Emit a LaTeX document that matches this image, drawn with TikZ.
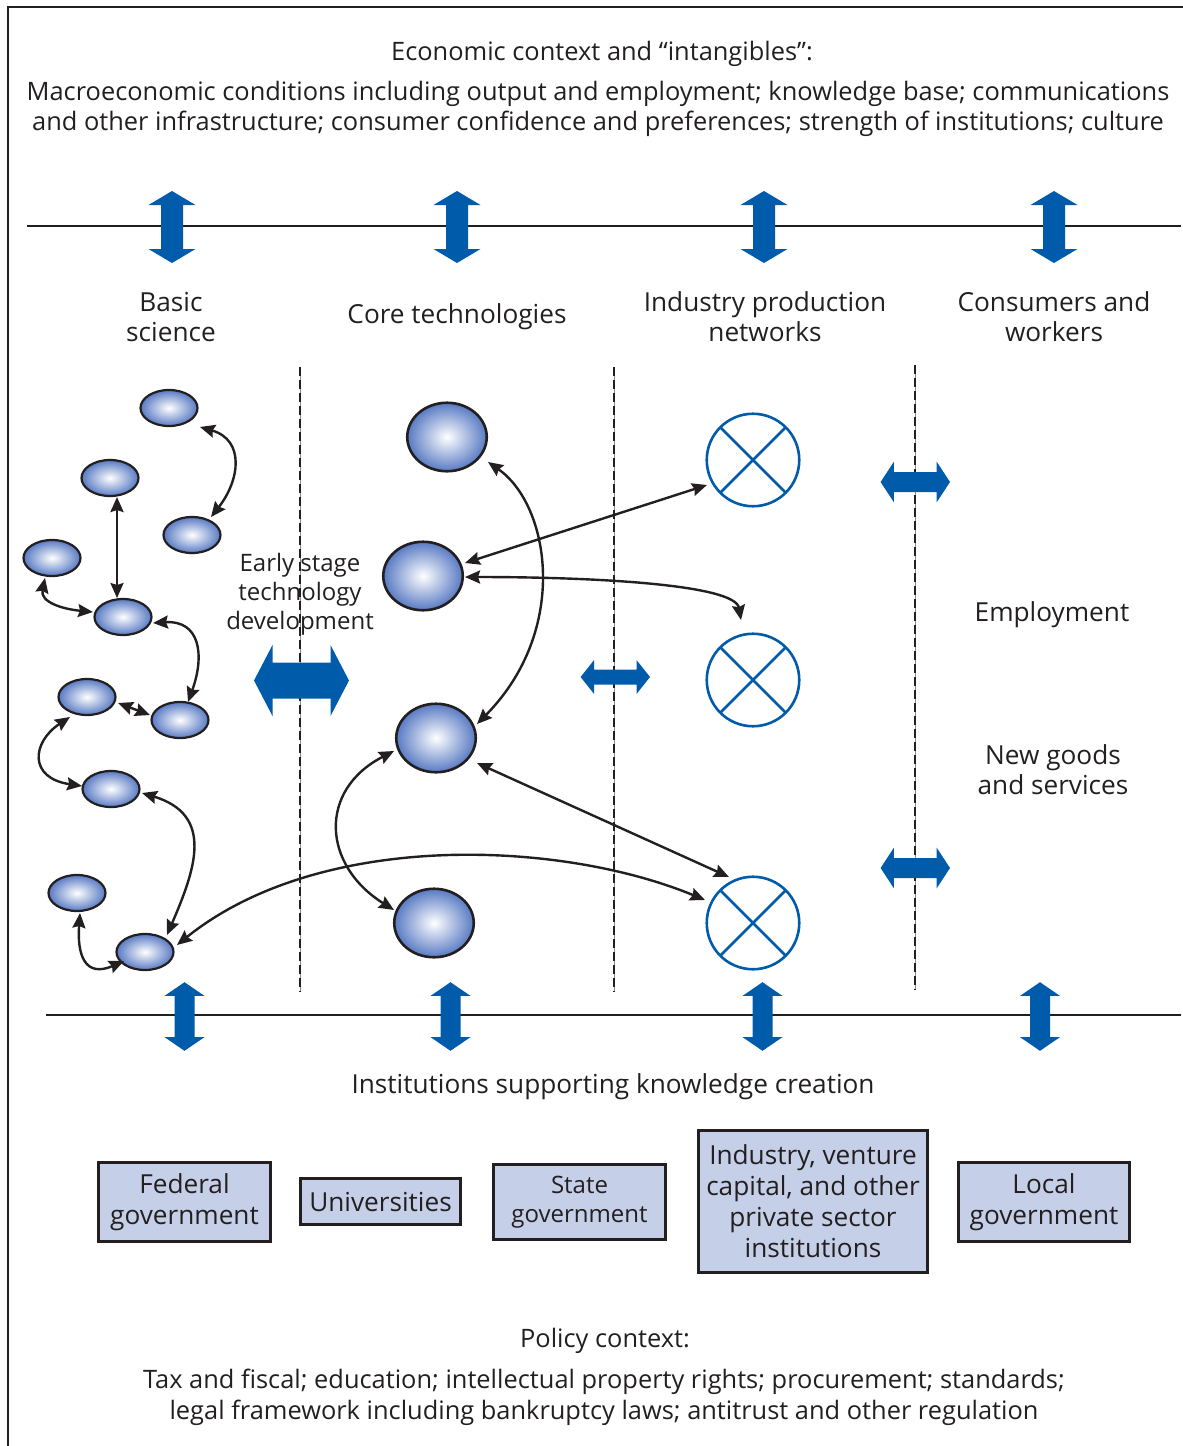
\documentclass[tikz,border=0pt]{standalone}
\usepackage{fontspec}
\setmainfont{Open Sans}
\usetikzlibrary{arrows.meta,shapes.geometric,calc}

\definecolor{ink}{HTML}{231F20}
\definecolor{blockblue}{RGB}{0,91,170}
\definecolor{ballblue}{RGB}{88,122,195}
\definecolor{boxfill}{RGB}{197,208,232}

% block double arrows: centre x, centre y, half length, head length, head half width, shaft half width
\newcommand\VBlock[6]{%
  \begin{scope}[shift={(#1,#2)}]
    \fill[blockblue] (0,-#3) -- (#5,{-#3+#4}) -- (#6,{-#3+#4}) -- (#6,{#3-#4}) -- (#5,{#3-#4})
      -- (0,#3) -- (-#5,{#3-#4}) -- (-#6,{#3-#4}) -- (-#6,{-#3+#4}) -- (-#5,{-#3+#4}) -- cycle;
  \end{scope}}
\newcommand\HBlock[6]{%
  \begin{scope}[shift={(#1,#2)}]
    \fill[blockblue] (-#3,0) -- ({-#3+#4},#5) -- ({-#3+#4},#6) -- ({#3-#4},#6) -- ({#3-#4},#5)
      -- (#3,0) -- ({#3-#4},-#5) -- ({#3-#4},-#6) -- ({-#3+#4},-#6) -- ({-#3+#4},-#5) -- cycle;
  \end{scope}}

\begin{document}
\begin{tikzpicture}[x=1pt,y=-1pt,
  every node/.style={text=ink},
  txt/.style={align=center, inner sep=0pt, font=\fontsize{25.4}{30}\selectfont},
  head/.style={txt, font=\fontsize{26.2}{30}\selectfont},
  ball/.style={ellipse, draw=ink, line width=2.2pt, inner color=white, outer color=ballblue,
    inner sep=0pt, minimum width=57pt, minimum height=36pt},
  bigball/.style={ball, line width=2.6pt, minimum width=79.5pt, minimum height=68.5pt},
  firm/.style={circle, draw=blockblue, line width=2.6pt, minimum size=92.5pt, inner sep=0pt, outer sep=0pt},
  cross/.style={draw=blockblue, line width=2.6pt},
  inst/.style={draw=ink, line width=2.6pt, fill=boxfill, align=center, inner sep=0pt,
    font=\fontsize{26.2}{31}\selectfont},
  link/.style={draw=ink, line width=2.4pt,
    {Stealth[length=15pt,width=13pt,inset=2pt]}-{Stealth[length=15pt,width=13pt,inset=2pt]}},
  rule/.style={draw=ink, line width=2pt},
  frame/.style={draw=ink, line width=2.6pt},
  dashline/.style={draw=ink, line width=2.2pt, dash pattern=on 9pt off 4pt},
  thinline/.style={draw=black!45, line width=0.8pt}
]
\useasboundingbox (0,0) rectangle (1183,1446);

% outer frame (top and left edges)
\draw[frame] (1183,7) -- (8,7) -- (8,1446);

% context texts
\node[txt] (econ) at (602,54) {Economic context and “intangibles”:};
\node[txt] (macro) at (598,109) {Macroeconomic conditions including output and employment; knowledge base; communications\\
  and other infrastructure; consumer confidence and preferences; strength of institutions; culture};

% horizontal rules
\draw[rule] (27,226) -- (1181,226);
\draw[rule] (46,1015) -- (1181,1015);

% column dividers
\foreach \x/\ya/\yb in {300/367/992, 614/367/992, 915/365/990}{
  \draw[thinline] (\x,\ya) -- (\x,\yb);
  \draw[dashline] (\x,\ya) -- (\x,\yb);
}

% vertical block arrows at the rules
\foreach \x in {172,457,764,1054}{\VBlock{\x}{227}{36}{14}{23.5}{11}}
\foreach \x in {184.5,450.5,762.5,1040}{\VBlock{\x}{1016.5}{34.3}{13.7}{20}{10}}

% horizontal block arrows across the dividers
\HBlock{301.5}{680.5}{47.5}{18.5}{35.5}{18}
\HBlock{615.3}{677}{34.7}{13.5}{17}{7.5}
\HBlock{915.3}{482}{34.7}{13.3}{20.3}{10}
\HBlock{915.3}{868}{34.7}{13.3}{20.3}{10}

% column headings
\node[head] (hbasic) at (171,317) {Basic\\science};
\node[head] (hcore) at (457,317) {Core technologies};
\node[head] (hind) at (765,317) {Industry production\\networks};
\node[head] (hcons) at (1054,317) {Consumers and\\workers};

\node[txt, font=\fontsize{24}{29}\selectfont] (early) at (300,594) {Early stage\\technology\\development};
\node[head] (employ) at (1052,615) {Employment};
\node[head] (goods) at (1053,770) {New goods\\and services};

% basic science
\node[ball] (e1) at (169,408) {};
\node[ball] (e2) at (110,478) {};
\node[ball] (e3) at (192,535) {};
\node[ball] (e4) at (52,558) {};
\node[ball] (e5) at (123,617) {};
\node[ball] (e6) at (87,697) {};
\node[ball] (e7) at (180,720) {};
\node[ball] (e8) at (111,789) {};
\node[ball] (e9) at (77,893) {};
\node[ball] (e10) at (145,952) {};

% core technologies
\node[bigball] (c1) at (447,437) {};
\node[bigball] (c2) at (423,576) {};
\node[bigball] (c3) at (436,738) {};
\node[bigball] (c4) at (434,923) {};

% industry production networks
\foreach \n/\y in {x1/460, x2/680, x3/923}{
  \node[firm] (\n) at (753,\y) {};
  \draw[cross] (\n.45) -- (\n.225) (\n.135) -- (\n.315);
}

% links within basic science
\draw[link] ($(e1)+(31,19)$) .. controls (245,440) and (240,480) .. ($(e3)+(19,-18)$);
\draw[link] ($(e2)+(7,19)$) -- ($(e5)+(-6,-19)$);
\draw[link] ($(e4)+(-7,20)$) .. controls (40,602) and (62,609) .. ($(e5)+(-30,-5)$);
\draw[link] ($(e5)+(30,6)$) .. controls (200,620) and (205,655) .. ($(e7)+(8,-18)$);
\draw[link] ($(e6)+(31,6)$) -- ($(e7)+(-30,-5)$);
\draw[link] ($(e6)+(-17,20)$) .. controls (32,742) and (28,778) .. ($(e8)+(-29,-3)$);
\draw[link] ($(e8)+(31,4)$) .. controls (215,815) and (195,870) .. ($(e10)+(22,-17)$);
\draw[link] ($(e9)+(3,20)$) .. controls (77,955) and (85,978) .. ($(e10)+(-21,9)$);

% links across columns
\draw[link] ($(e10)+(32,-7)$) .. controls (320,830) and (560,840) .. ($(x3)+(-48,-23)$);
\draw[link] ($(c1)+(41,25)$) .. controls (550,505) and (570,630) .. ($(c3)+(41,-14)$);
\draw[link] ($(c2)+(42,-13)$) -- ($(x1)+(-46,25)$);
\draw[link] ($(c2)+(42,1)$) .. controls (600,577) and (735,585) .. ($(x2)+(-12,-60)$);
\draw[link] ($(c3)+(41,25)$) -- ($(x3)+(-24,-46)$);
\draw[link] ($(c3)+(-42,13)$) .. controls (318,790) and (322,865) .. ($(c4)+(-40,-13)$);

% institutions
\node[head] (instit) at (613,1087) {Institutions supporting knowledge creation};
\node[inst, minimum width=172.5pt, minimum height=79.5pt] (federal) at (184.5,1202) {Federal\\government};
\node[inst, minimum width=160.5pt, minimum height=46.5pt] (univ) at (380.5,1201.5) {Universities};
\node[inst, minimum width=172.5pt, minimum height=75.5pt, font=\fontsize{24}{29}\selectfont] (state) at (579.5,1202) {State\\government};
\node[inst, minimum width=229.5pt, minimum height=142.5pt] (industry) at (813,1201.5) {Industry, venture\\capital, and other\\private sector\\institutions};
\node[inst, minimum width=171.5pt, minimum height=79.5pt] (local) at (1044,1202) {Local\\government};

% policy context
\node[txt] (policy) at (605,1341) {Policy context:};
\node[txt, font=\fontsize{25.4}{31}\selectfont] (policylist) at (604,1397) {Tax and fiscal; education; intellectual property rights; procurement; standards;\\
  legal framework including bankruptcy laws; antitrust and other regulation};
\end{tikzpicture}
\end{document}
